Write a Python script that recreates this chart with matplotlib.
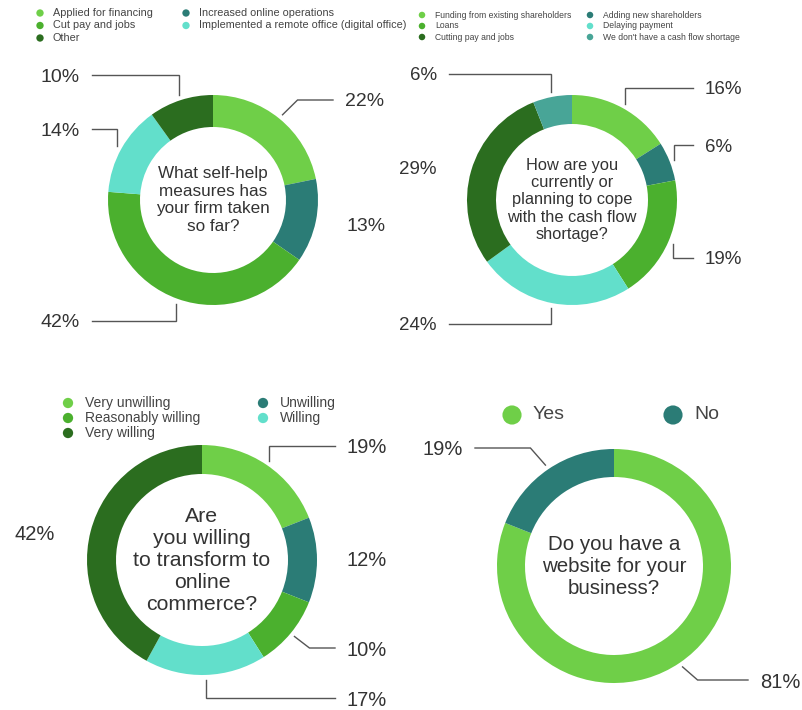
import matplotlib.pyplot as plt
import numpy as np

plt.rcParams['font.family'] = ['Liberation Sans', 'DejaVu Sans']

LIGHT = '#6fcf48'
MID = '#4bb02e'
DARK = '#2b6d1f'
TEAL = '#2b7c76'
CYAN = '#62dfcb'
MUTED = '#48a597'
INK = '#333333'
LINE = '#555555'

# What self-help measures has your firm taken so far?
help_labels = ['Applied for financing', 'Increased online operations', 'Cut pay and jobs',
               'Implemented a remote office (digital office)', 'Other']
help_values = [22, 13, 42, 14, 10]
help_colors = [LIGHT, TEAL, MID, CYAN, DARK]

# How are you coping with the cash flow shortage?
cash_labels = ['Funding from existing shareholders', 'Adding new shareholders', 'Loans',
               'Delaying payment', 'Cutting pay and jobs', "We don't have a cash flow shortage"]
cash_values = [16, 6, 19, 24, 29, 6]
cash_colors = [LIGHT, TEAL, MID, CYAN, DARK, MUTED]

# Are you willing to transform to online commerce?
online_labels = ['Very unwilling', 'Unwilling', 'Reasonably willing', 'Willing', 'Very willing']
online_values = [19, 12, 10, 17, 42]
online_colors = [LIGHT, TEAL, MID, CYAN, DARK]

# Do you have a website for your business?
web_labels = ['Yes', 'No']
web_values = [81, 19]
web_colors = [LIGHT, TEAL]

W, H = 803, 710
fig = plt.figure(figsize=(W / 100, H / 100), dpi=100)
ax = fig.add_axes([0, 0, 1, 1])


def fy(py):
    # work in pixel rows measured from the top
    return H - py


def legend(x0, y0, col_dx, row_dy, labels, colors, size, msize, text_dx):
    for i, (lab, col) in enumerate(zip(labels, colors)):
        x = x0 + (i % 2) * col_dx
        y = y0 + (i // 2) * row_dy
        ax.scatter([x], [fy(y)], s=msize, color=col, edgecolors='none', zorder=3)
        ax.text(x + text_dx, fy(y), lab, fontsize=size, color='#444444',
                ha='left', va='center')


def donut(cx, cy, r, width, values, colors, question, qsize, spec, psize):
    wedges, _ = ax.pie(values, colors=colors, startangle=90, counterclock=False,
                       radius=r, center=(cx, fy(cy)),
                       wedgeprops=dict(width=width, linewidth=0))
    ax.text(cx, fy(cy), question, fontsize=qsize, color=INK, ha='center',
            va='center', linespacing=1.2)
    for w, v, (tx, ty, side, style) in zip(wedges, values, spec):
        ha = 'left' if side == 'r' else 'right'
        ax.text(tx, fy(ty), f'{v}%', fontsize=psize, color=INK, ha=ha, va='center')
        if style is None:
            continue
        mid = np.deg2rad((w.theta1 + w.theta2) / 2)
        axp = cx + (r + 5) * np.cos(mid)
        ayp = cy - (r + 5) * np.sin(mid)
        end = tx - 12 if side == 'r' else tx + 12
        if style == 'elbow':
            bx = axp
        else:
            bx = axp + (15 if side == 'r' else -15)
        xs = [axp, bx, end]
        ys = [fy(ayp), fy(ty - 2), fy(ty - 2)]
        ax.plot(xs, ys, color=LINE, lw=1.0, solid_joinstyle='miter')


# top-left
legend(40, 13, 146, 12.5, help_labels, help_colors, 7.8, 28, 13)
donut(213, 200, 105, 32, help_values, help_colors,
      'What self-help\nmeasures has\nyour firm taken\nso far?', 12.3,
      [(345, 102, 'r', 'diag'), (347, 227, 'r', None), (80, 323, 'l', 'elbow'),
       (80, 131, 'l', 'elbow'), (80, 77, 'l', 'elbow')], 14)

# top-right
legend(422, 15, 168, 11, cash_labels, cash_colors, 6.2, 22, 13)
donut(572, 200, 105, 29, cash_values, cash_colors,
      'How are you\ncurrently or\nplanning to cope\nwith the cash flow\nshortage?', 11.8,
      [(705, 90, 'r', 'elbow'), (705, 147, 'r', 'elbow'), (705, 260, 'r', 'elbow'),
       (437, 326, 'l', 'elbow'), (437, 170, 'l', None), (437, 76, 'l', 'elbow')], 13.5)

# bottom-left
legend(68, 403, 195, 15, online_labels, online_colors, 10, 55, 17)
donut(202, 560, 115, 29, online_values, online_colors,
      'Are\nyou willing\nto transform to\nonline\ncommerce?', 15.3,
      [(347, 448, 'r', 'elbow'), (347, 560, 'r', None), (347, 650, 'r', 'diag'),
       (347, 700, 'r', 'elbow'), (55, 535, 'l', None)], 14.5)

# bottom-right
legend(512, 415, 161, 0, web_labels, web_colors, 14, 190, 21)
donut(614, 566, 117, 28, web_values, web_colors,
      'Do you have a\nwebsite for your\nbusiness?', 14.8,
      [(760, 682, 'r', 'diag'), (463, 450, 'l', 'diag')], 14.5)

ax.set_xlim(0, W)
ax.set_ylim(0, H)
ax.set_aspect('equal')
ax.axis('off')
fig.savefig('out.png', dpi=100, facecolor='white')
